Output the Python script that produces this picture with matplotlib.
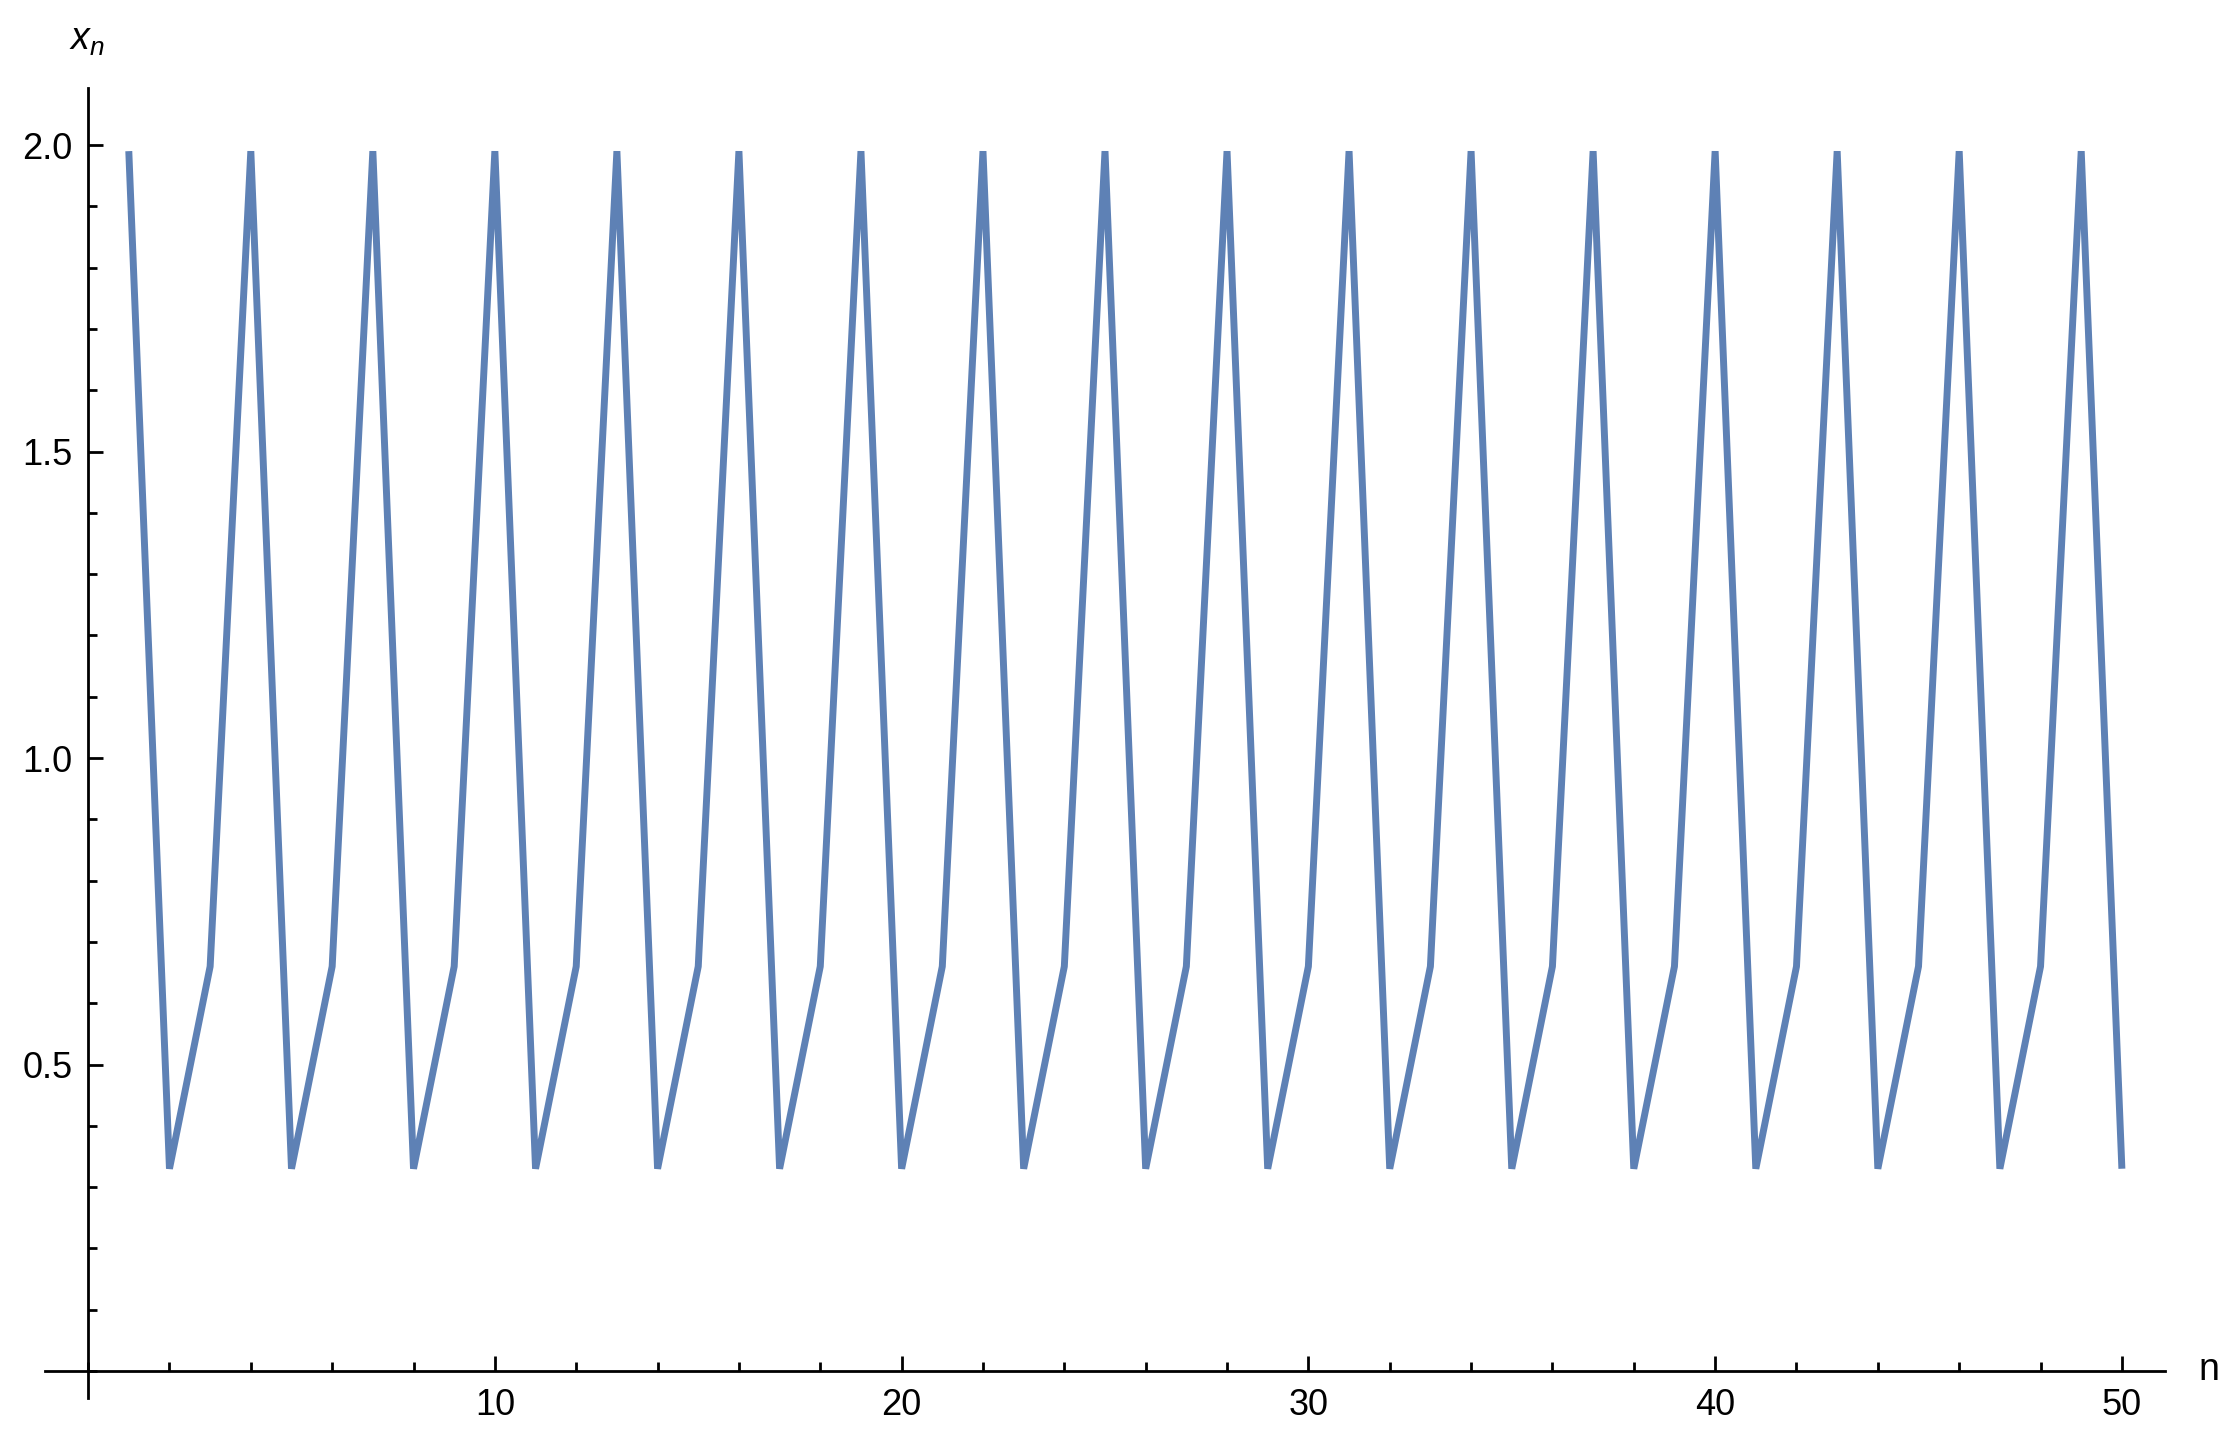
import matplotlib
matplotlib.use("Agg")
import matplotlib.pyplot as plt
from matplotlib.ticker import MultipleLocator, FixedLocator

plt.rcParams['font.family'] = ['Liberation Sans', 'DejaVu Sans']
plt.rcParams['mathtext.fontset'] = 'custom'
plt.rcParams['mathtext.rm'] = 'Liberation Sans'
plt.rcParams['mathtext.it'] = 'Liberation Sans:italic'

n = list(range(1, 51))
x_n = [1.99, 0.33, 0.66, 1.99, 0.33, 0.66, 1.99, 0.33, 0.66, 1.99,
       0.33, 0.66, 1.99, 0.33, 0.66, 1.99, 0.33, 0.66, 1.99, 0.33,
       0.66, 1.99, 0.33, 0.66, 1.99, 0.33, 0.66, 1.99, 0.33, 0.66,
       1.99, 0.33, 0.66, 1.99, 0.33, 0.66, 1.99, 0.33, 0.66, 1.99,
       0.33, 0.66, 1.99, 0.33, 0.66, 1.99, 0.33, 0.66, 1.99, 0.33]
x_major = [10, 20, 30, 40, 50]
y_major = [0.5, 1.0, 1.5, 2.0]
y_labels = ["0.5", "1.0", "1.5", "2.0"]

W, H = 2230, 1448
fig = plt.figure(figsize=(W / 100, H / 100), dpi=100)
ax = fig.add_axes([45 / W, 1 - 1398 / H, (2165 - 45) / W, (1398 - 88) / H])

ax.plot(n, x_n, color='#5E81B5', lw=5.0, solid_joinstyle='bevel', solid_capstyle='butt')

ax.set_xlim(-1.06, 51.06)
ax.set_ylim(-0.044, 2.093)

for s in ['top', 'right']:
    ax.spines[s].set_visible(False)
for s in ['left', 'bottom']:
    ax.spines[s].set_position(('data', 0))
    ax.spines[s].set_linewidth(2.0)
    ax.spines[s].set_color('black')

ax.xaxis.set_major_locator(FixedLocator(x_major))
ax.xaxis.set_minor_locator(MultipleLocator(2))
ax.yaxis.set_major_locator(FixedLocator(y_major))
ax.set_yticklabels(y_labels)
ax.yaxis.set_minor_locator(MultipleLocator(0.1))

ax.tick_params(axis='x', which='major', direction='in', length=10.5, width=2.0, labelsize=26, pad=12)
ax.tick_params(axis='x', which='minor', direction='in', length=6.5, width=2.0)
ax.tick_params(axis='y', which='major', direction='in', length=10.5, width=2.0, labelsize=26, pad=11)
ax.tick_params(axis='y', which='minor', direction='in', length=6.5, width=2.0)

fig.text(2209 / W, 1 - 1370 / H, 'n', fontsize=27, ha='center', va='center')
fig.text(87 / W, 1 - 40 / H, r'$x_n$', fontsize=27, ha='center', va='center')

fig.savefig('out.png', dpi=100)
